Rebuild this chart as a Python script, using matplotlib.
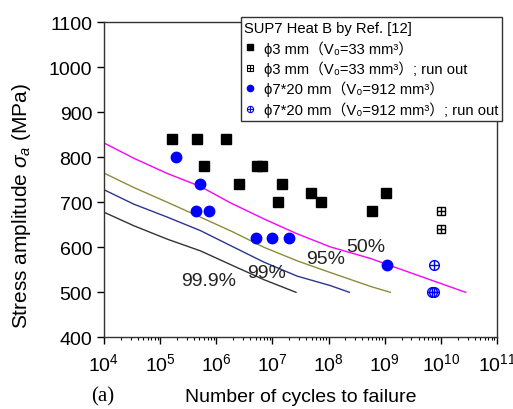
import numpy as np
import matplotlib
matplotlib.use('Agg')
import matplotlib.pyplot as plt
from matplotlib.lines import Line2D
from matplotlib.legend_handler import HandlerTuple

plt.rcParams['font.family'] = ['Liberation Sans', 'DejaVu Sans', 'Noto Sans CJK SC']
plt.rcParams['mathtext.fontset'] = 'custom'
plt.rcParams['mathtext.rm'] = 'Liberation Sans'
plt.rcParams['mathtext.it'] = 'Liberation Sans:italic'

# phi 3 mm specimens (failed)
small_N = [1.65e5, 4.5e5, 1.5e6, 6.0e5, 5.4e6, 6.6e6, 2.5e6, 1.48e7,
           1.26e7, 4.8e7, 7.2e7, 5.9e8, 1.05e9]
small_S = [840, 840, 840, 780, 780, 780, 740, 740, 700, 720, 700, 680, 720]
# phi 3 mm run outs
small_ro_N = [1.0e10, 1.0e10]
small_ro_S = [680, 640]
# phi 7*20 mm specimens (failed)
large_N = [1.95e5, 5.1e5, 4.3e5, 7.5e5, 5.1e6, 9.8e6, 2.0e7, 1.1e9]
large_S = [800, 740, 680, 680, 620, 620, 620, 560]
# phi 7*20 mm run outs
large_ro_N = [7.6e9, 7.0e9, 7.6e9]
large_ro_S = [560, 500, 500]

# P-S-N curves (log10 N, stress)
p50_logN = [4.0, 4.53, 5.13, 5.72, 6.25, 6.85, 7.44, 8.03, 8.75, 9.04, 10.44]
p50_S = [832, 798, 764, 735, 699, 663, 630, 601, 575, 562, 500]
p95_logN = [4.0, 4.53, 5.13, 5.72, 6.3, 6.85, 7.44, 8.03, 8.75, 9.1]
p95_S = [765, 733, 700, 667, 634, 600, 570, 544, 513, 500]
p99_logN = [4.0, 4.53, 5.13, 5.72, 6.3, 6.85, 7.44, 8.03, 8.37]
p99_S = [728, 696, 667, 637, 601, 567, 536, 515, 500]
p999_logN = [4.0, 4.53, 5.13, 5.72, 6.3, 6.85, 7.42]
p999_S = [678, 648, 618, 592, 559, 528, 500]

curve_labels = ['99.9%', '99%', '95%', '50%']
label_logN = [5.87, 6.89, 7.95, 8.67]
label_S = [526, 543, 576, 601]

fig = plt.figure(figsize=(5.13, 4.10), dpi=100)
ax = fig.add_axes([0.2027, 0.1749, 0.7661, 0.7681])

ax.plot(10 ** np.array(p50_logN), p50_S, color='#ff00ff', lw=1)
ax.plot(10 ** np.array(p95_logN), p95_S, color='#8c8c3c', lw=1)
ax.plot(10 ** np.array(p99_logN), p99_S, color='#2a3590', lw=1)
ax.plot(10 ** np.array(p999_logN), p999_S, color='#333333', lw=1)

for lab, lx, ly in zip(curve_labels, label_logN, label_S):
    ax.text(10 ** lx, ly, lab, fontsize=14, ha='center', va='center', color='#222222')

ax.plot(small_N, small_S, 's', color='black', ms=6.8, ls='none')
ax.plot(large_N, large_S, 'o', color='blue', ms=7.5, ls='none')
ax.plot(small_ro_N, small_ro_S, 's', mfc='none', mec='black', mew=1, ms=6, ls='none')
ax.plot(small_ro_N, small_ro_S, '+', color='black', mew=1, ms=6, ls='none')
ax.plot(large_ro_N, large_ro_S, 'o', mfc='none', mec='blue', mew=1, ms=7, ls='none')
ax.plot(large_ro_N, large_ro_S, '+', color='blue', mew=1, ms=7, ls='none')

ax.set_xscale('log')
ax.set_xlim(1e4, 1e11)
ax.set_ylim(400, 1100)
ax.set_xticks([10.0 ** k for k in range(4, 12)])
ax.xaxis.set_minor_locator(matplotlib.ticker.LogLocator(base=10, subs=np.arange(2, 10), numticks=20))
ax.xaxis.set_minor_formatter(matplotlib.ticker.NullFormatter())
ax.set_yticks(np.arange(400, 1101, 100))
ax.tick_params(axis='both', which='major', direction='out', length=5, width=1, labelsize=14)
ax.tick_params(axis='x', which='minor', direction='out', length=2.5, width=0.8)
ax.tick_params(axis='x', pad=6)
for sp in ax.spines.values():
    sp.set_linewidth(1)
    sp.set_color('#333333')

ax.set_ylabel(r'Stress amplitude $\sigma_a$ (MPa)', fontsize=15, labelpad=4)
ax.yaxis.set_label_coords(-0.18, 0.42)
ax.set_xlabel('Number of cycles to failure', fontsize=14, labelpad=10)
fig.text(0.178, 0.033, '(a)', fontsize=15, family='Liberation Serif', ha='left', va='center')

h1 = Line2D([], [], marker='s', color='black', ms=4, ls='none')
h2a = Line2D([], [], marker='s', mfc='none', mec='black', mew=0.8, ms=4, ls='none')
h2b = Line2D([], [], marker='+', color='black', mew=0.8, ms=4, ls='none')
h3 = Line2D([], [], marker='o', color='blue', ms=4.5, ls='none')
h4a = Line2D([], [], marker='o', mfc='none', mec='blue', mew=0.8, ms=4.5, ls='none')
h4b = Line2D([], [], marker='+', color='blue', mew=0.8, ms=4.5, ls='none')
legend_labels = ['ϕ3 mm（V₀=33 mm³）',
                 'ϕ3 mm（V₀=33 mm³）; run out',
                 'ϕ7*20 mm（V₀=912 mm³）',
                 'ϕ7*20 mm（V₀=912 mm³）; run out']
leg = fig.legend([h1, (h2a, h2b), h3, (h4a, h4b)], legend_labels,
                 handler_map={tuple: HandlerTuple(ndivide=1)},
                 title='SUP7 Heat B by Ref. [12]', title_fontsize=10.6, fontsize=10.6,
                 loc='upper left', bbox_to_anchor=(0.469, 0.955), borderaxespad=0,
                 fancybox=False, edgecolor='#333333', framealpha=1, alignment='left',
                 handlelength=0.8, handletextpad=0.55, labelspacing=0.33,
                 borderpad=0.25)
leg.get_frame().set_linewidth(1)

fig.savefig('out.png', dpi=100)
